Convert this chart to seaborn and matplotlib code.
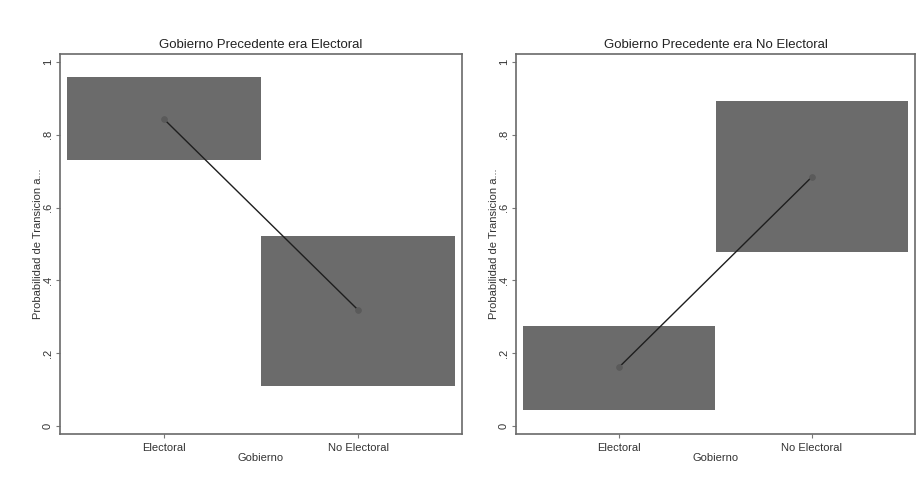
import seaborn as sns
import pandas as pd
import matplotlib.pyplot as plt

sns.set_theme(style="white")
plt.rcParams['font.family'] = ['Liberation Sans', 'DejaVu Sans']

categories = ["Electoral", "No Electoral"]
titles = ["Gobierno Precedente era Electoral", "Gobierno Precedente era No Electoral"]

# point estimates and confidence bounds, per panel
prob_elec = [0.843, 0.319]
lo_elec = [0.731, 0.110]
hi_elec = [0.959, 0.522]

prob_noelec = [0.162, 0.684]
lo_noelec = [0.044, 0.478]
hi_noelec = [0.275, 0.893]

yticks = [0, 0.2, 0.4, 0.6, 0.8, 1]
yticklabels = ["0", ".2", ".4", ".6", ".8", "1"]

fig = plt.figure(figsize=(9.21, 4.79), dpi=100)
ax1 = fig.add_axes([60/921, 45/479, 402/921, 380/479])
ax2 = fig.add_axes([516/921, 45/479, 399/921, 380/479])

panels = [(ax1, prob_elec, lo_elec, hi_elec, titles[0]),
          (ax2, prob_noelec, lo_noelec, hi_noelec, titles[1])]

for ax, prob, lo, hi, title in panels:
    df = pd.DataFrame({"Gobierno": categories, "prob": prob})
    ax.bar(range(len(categories)), [h - l for h, l in zip(hi, lo)], bottom=lo,
           width=0.995, color="#6b6b6b", edgecolor="none", zorder=1)
    sns.pointplot(data=df, x="Gobierno", y="prob", order=categories, ax=ax,
                  color="#1e1e1e", linewidth=1.0, markers="o", markersize=4,
                  zorder=3)
    for coll in ax.lines:
        coll.set_markerfacecolor("#5a5a5a")
        coll.set_markeredgecolor("#5a5a5a")
    ax.set_xlim(-0.536, 1.536)
    ax.set_ylim(-0.022, 1.022)
    ax.set_yticks(yticks)
    ax.set_yticklabels(yticklabels, rotation=90, va="center", fontsize=8, color="#333333")
    ax.set_xticks(range(len(categories)))
    ax.set_xticklabels(categories, fontsize=8, color="#333333")
    ax.tick_params(axis="both", which="both", direction="out", length=3, width=0.8,
                   color="#777777", left=True, bottom=True)
    ax.tick_params(axis="y", pad=2)
    ax.tick_params(axis="x", pad=3.5)
    ax.set_xlabel("Gobierno", fontsize=8, color="#333333", labelpad=0)
    ax.set_ylabel("Probabilidad de Transicion a...", fontsize=8, color="#333333", labelpad=0)
    ax.set_title(title, fontsize=9.5, color="#222222", pad=4)
    for s in ax.spines.values():
        s.set_edgecolor("#6a6a6a")
        s.set_linewidth(1.2)
    ax.grid(False)

fig.savefig("out.png", dpi=100, facecolor="white")
